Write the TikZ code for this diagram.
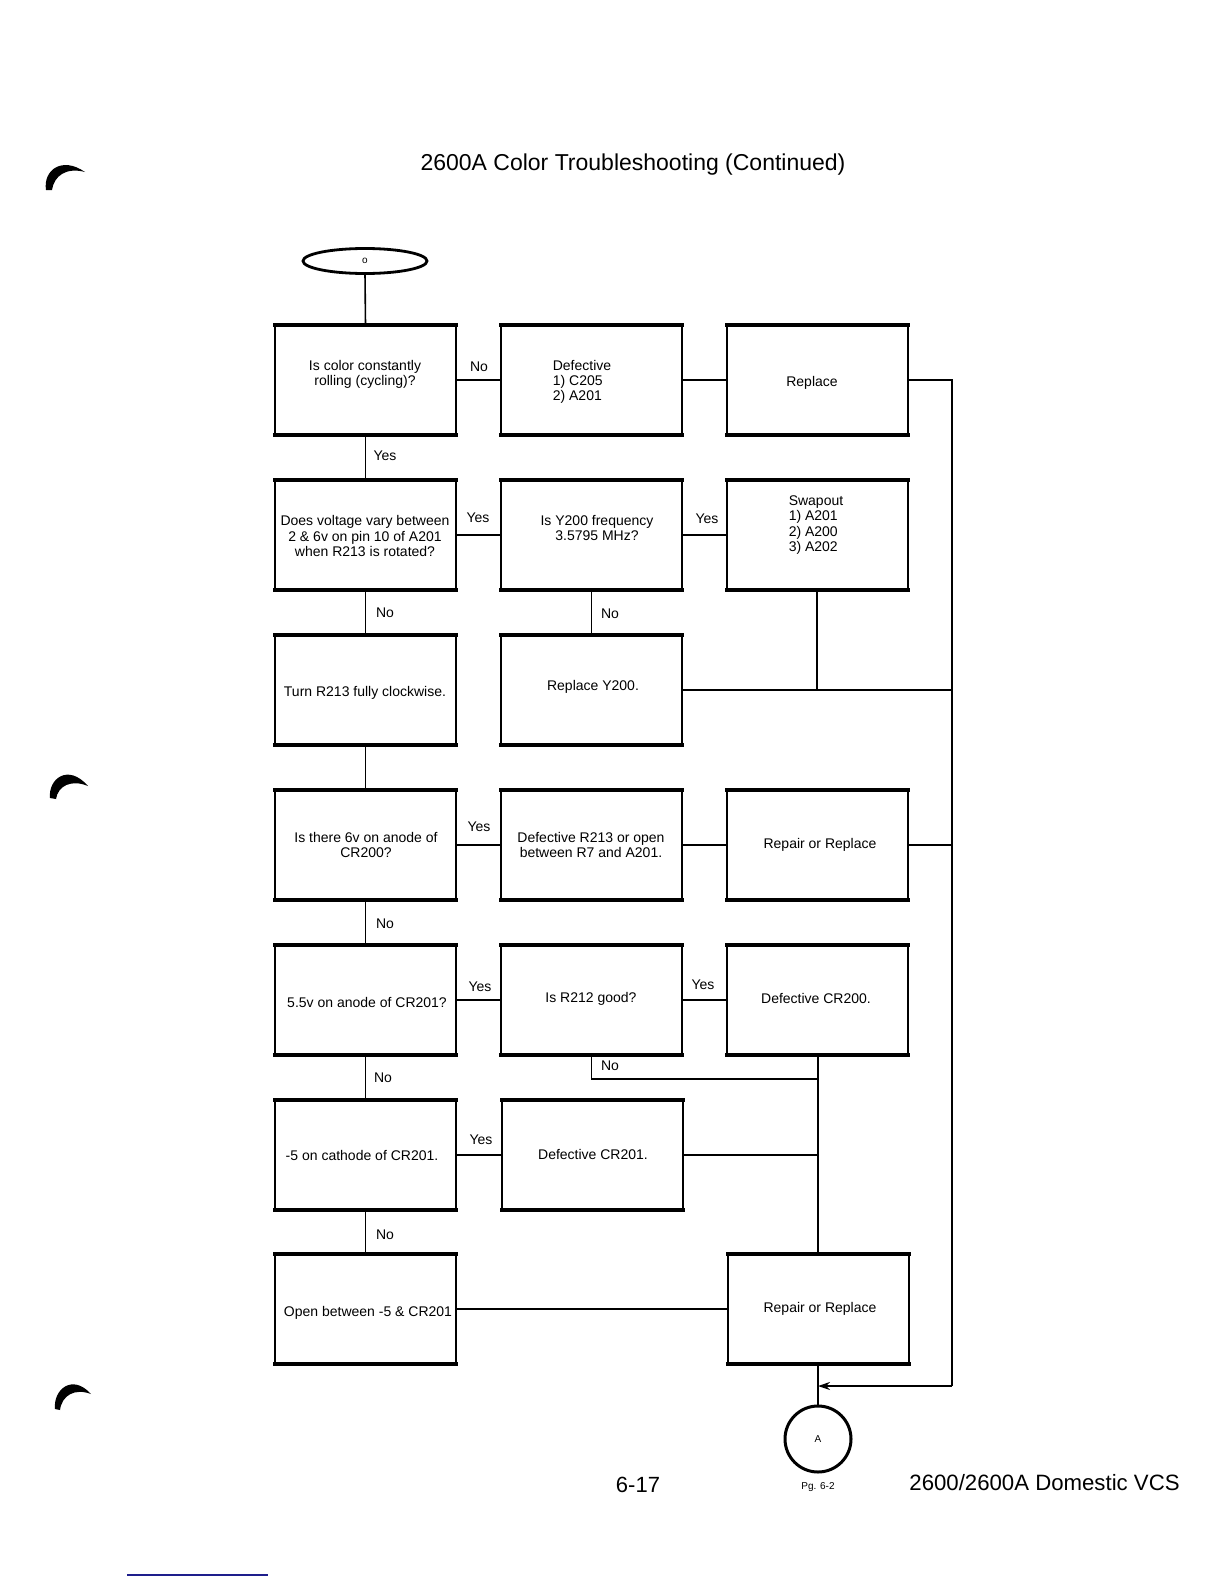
\documentclass[tikz,border=0pt]{standalone}
\usepackage{fontspec}
\setmainfont{Liberation Sans}
\usetikzlibrary{shapes.geometric,arrows.meta}
\definecolor{navyline}{RGB}{30,30,140}
\begin{document}
\begin{tikzpicture}[x=0.5pt,y=-0.5pt,
  box/.style={draw, line width=1pt, minimum width=90.5pt, minimum height=55pt, inner sep=0pt, outer sep=0pt},
  boxedge/.style={line width=2pt, line cap=rect},
  txt/.style={font=\fontsize{7}{7.6}\selectfont, align=center, inner sep=0pt},
  lbl/.style={font=\fontsize{7}{8}\selectfont, inner sep=0pt},
  hconn/.style={line width=1.4pt},
  vconn/.style={line width=0.8pt},
  rline/.style={line width=1pt}]
\useasboundingbox (0,0) rectangle (1224,1584);
\fill[white] (0,0) rectangle (1224,1584);

% page marks
\fill (46,190) .. controls (43,170) and (62,156) .. (85,172) .. controls (66,167) and (54,176) .. (52,190) -- cycle;
\fill (50,798) .. controls (48,779) and (68,763) .. (88,786) .. controls (71,779) and (58,786) .. (56,799) -- cycle;
\fill (55,1409) .. controls (53,1390) and (72,1373) .. (91,1394) .. controls (75,1388) and (62,1395) .. (60,1410) -- cycle;
\draw[navyline, line width=1pt] (127,1575) -- (268,1575);

\node[font=\fontsize{11.5}{13}\selectfont, inner sep=0pt] (title) at (633,165) {2600A Color Troubleshooting (Continued)};

\node[draw, ellipse, line width=1.4pt, minimum width=62pt, minimum height=12.5pt, inner sep=0pt, outer sep=0pt, font=\fontsize{5}{6}\selectfont] (start) at (365,261) {o};

% boxes
\node[box] (a1) at (365.5,380) {};
\node[box] (b1) at (591.5,380) {};
\node[box] (c1) at (817,380) {};
\node[box] (a2) at (365.5,535) {};
\node[box] (b2) at (591.5,535) {};
\node[box] (c2) at (817,535) {};
\node[box] (a3) at (365.5,690) {};
\node[box] (b3) at (591.5,690) {};
\node[box] (a4) at (365.5,845) {};
\node[box] (b4) at (591.5,845) {};
\node[box] (c4) at (817,845) {};
\node[box] (a5) at (365.5,1000) {};
\node[box] (b5) at (591.5,1000) {};
\node[box] (c5) at (817,1000) {};
\node[box] (a6) at (365.5,1155) {};
\node[box] (b6) at (592.5,1155) {};
\node[box] (a7) at (365.5,1309) {};
\node[box] (c7) at (818,1309) {};
\foreach \n in {a1,b1,c1,a2,b2,c2,a3,b3,a4,b4,c4,a5,b5,c5,a6,b6,a7,c7}
  \draw[boxedge] (\n.north west) -- (\n.north east) (\n.south west) -- (\n.south east);

% texts
\node[txt] (ta1) at (365,374) {Is color constantly\\rolling (cycling)?};
\node[txt, align=left] (tb1) at (582,382) {Defective\\1) C205\\2) A201};
\node[txt] (tc1) at (812,383) {Replace};
\node[txt] (ta2) at (365,536) {Does voltage vary between\\2 \& 6v on pin 10 of A201\\when R213 is rotated?};
\node[txt] (tb2) at (597,528) {Is Y200 frequency\\3.5795 MHz?};
\node[txt, align=left] (tc2) at (816,525) {Swapout\\1) A201\\2) A200\\3) A202};
\node[txt] (ta3) at (365,693) {Turn R213 fully clockwise.};
\node[txt] (tb3) at (593,687) {Replace Y200.};
\node[txt] (ta4) at (366,845) {Is there 6v on anode of\\CR200?};
\node[txt] (tb4) at (591,845) {Defective R213 or open\\between R7 and A201.};
\node[txt] (tc4) at (820,845) {Repair or Replace};
\node[txt] (ta5) at (367,1002) {5.5v on anode of CR201?};
\node[txt] (tb5) at (591,999) {Is R212 good?};
\node[txt] (tc5) at (816,998) {Defective CR200.};
\node[txt] (ta6) at (362,1155) {-5 on cathode of CR201.};
\node[txt] (tb6) at (593,1154) {Defective CR201.};
\node[txt] (ta7) at (368,1313) {Open between -5 \& CR201};
\node[txt] (tc7) at (820,1309) {Repair or Replace};

% end connector
\node[draw, circle, line width=1.5pt, minimum size=33pt, inner sep=0pt, outer sep=0pt, font=\fontsize{5}{6}\selectfont] (endc) at (818,1439) {A};
\node[font=\fontsize{5}{6}\selectfont, inner sep=0pt] (pg) at (818,1487) {Pg. 6-2};

% coordinates
\coordinate (rtop) at (952,380);
\coordinate (rbot) at (952,1386);
\coordinate (join) at (818,1386);
\coordinate (b5no) at (591.5,1079);

% connectors
\draw[vconn] (start.south) -- (a1.north);
\draw[hconn] (a1) -- (b1);
\draw[hconn] (b1) -- (c1);
\draw[rline] (c1.east) -- (rtop) -- (rbot);
\draw[rline, -{Stealth[length=6pt,width=4pt]}] (rbot) -- (join);
\draw[vconn] (a1) -- (a2);
\draw[hconn] (a2) -- (b2);
\draw[hconn] (b2) -- (c2);
\draw[vconn] (a2) -- (a3);
\draw[vconn] (b2) -- (b3);
\draw[hconn] (b3.east) -- (b3.east -| rtop);
\draw[vconn] (c2.south) -- (c2.south |- b3.east);
\draw[vconn] (a3) -- (a4);
\draw[hconn] (a4) -- (b4);
\draw[hconn] (b4) -- (c4);
\draw[hconn] (c4.east) -- (c4.east -| rtop);
\draw[vconn] (a4) -- (a5);
\draw[hconn] (a5) -- (b5);
\draw[hconn] (b5) -- (c5);
\draw[vconn] (b5.south) -- (b5no) -- (b5no -| c7.north);
\draw[vconn] (c5.south -| c7.north) -- (c7.north);
\draw[vconn] (a5) -- (a6);
\draw[hconn] (a6) -- (b6);
\draw[hconn] (b6.east) -- (b6.east -| c7.north);
\draw[vconn] (a6) -- (a7);
\draw[hconn] (a7) -- (c7);
\draw[vconn] (c7.south) -- (endc.north);

% labels
\node[lbl] (l1) at (479,367) {No};
\node[lbl] (l2) at (385,456) {Yes};
\node[lbl] (l3) at (478,518) {Yes};
\node[lbl] (l4) at (707,519) {Yes};
\node[lbl] (l5) at (385,613) {No};
\node[lbl] (l6) at (610,614) {No};
\node[lbl] (l7) at (479,827) {Yes};
\node[lbl] (l8) at (385,924) {No};
\node[lbl] (l9) at (480,987) {Yes};
\node[lbl] (l10) at (703,985) {Yes};
\node[lbl] (l11) at (610,1066) {No};
\node[lbl] (l12) at (383,1078) {No};
\node[lbl] (l13) at (481,1140) {Yes};
\node[lbl] (l14) at (385,1235) {No};

% footer
\node[font=\fontsize{11}{13}\selectfont, inner sep=0pt] (pnum) at (638,1485) {6-17};
\node[font=\fontsize{11.1}{13}\selectfont, inner sep=0pt, anchor=west] (foot) at (909,1483) {2600/2600A Domestic VCS};
\end{tikzpicture}
\end{document}
